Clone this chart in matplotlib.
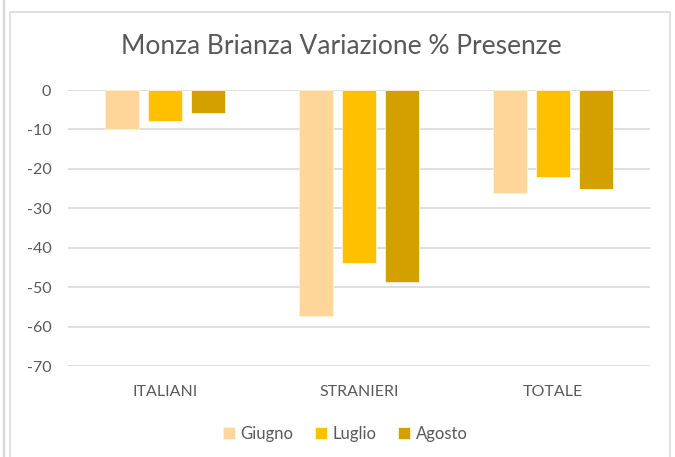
import matplotlib.pyplot as plt
import numpy as np
from matplotlib.patches import Rectangle

# dati
categorie = ["ITALIANI", "STRANIERI", "TOTALE"]
serie = ["Giugno", "Luglio", "Agosto"]
giugno = [-9.9, -57.4, -26.0]
luglio = [-7.8, -43.8, -22.1]
agosto = [-5.9, -48.7, -25.2]
valori = [giugno, luglio, agosto]
colori = ["#FFD699", "#FFC000", "#D4A000"]

plt.rcParams['font.family'] = ['Lato', 'DejaVu Sans']
testo = "#595959"

fig = plt.figure(figsize=(6.75, 4.57), dpi=100)
ax = fig.add_axes([68/675, 1-366/457, (650-68)/675, (366-90)/457])

# cornice
fig.patches.append(Rectangle((10/675, -0.1), 660/675, 1-12/457+0.1, transform=fig.transFigure,
                             fill=False, edgecolor="#D9D9D9", linewidth=1.2))
fig.patches.append(Rectangle((3/675, -0.1), 0.001, 1.2, transform=fig.transFigure,
                             fill=False, edgecolor="#D9D9D9", linewidth=1.0))

x = np.arange(len(categorie))
larg = 0.175
passo = 0.222
for i, (nome, v) in enumerate(zip(serie, valori)):
    ax.bar(x + (i-1)*passo, v, larg, color=colori[i], label=nome,
           edgecolor="#FFF3DA", linewidth=0.6, zorder=3)

ax.set_ylim(-70, 0)
ax.set_xlim(-0.5, 2.5)
ax.set_yticks(range(-70, 1, 10))
ax.set_yticklabels([str(t) for t in range(-70, 1, 10)])
ax.set_xticks(x)
ax.set_xticklabels(categorie)
ax.grid(axis='y', color="#D9D9D9", linewidth=1.2, zorder=0)
for s in ax.spines.values():
    s.set_visible(False)
ax.tick_params(length=0, colors=testo, labelsize=11.5)
ax.tick_params(axis='y', pad=12)
ax.tick_params(axis='x', pad=14)

fig.text(341/675, 1-47/457, "Monza Brianza Variazione % Presenze", ha='center', va='center',
         fontsize=19, color=testo)

leg = fig.legend(loc='center', bbox_to_anchor=(345/675, 1-434/457), ncol=3, frameon=False,
                 handlelength=0.75, handleheight=0.75, handletextpad=0.3, columnspacing=1.3,
                 fontsize=12)
for t in leg.get_texts():
    t.set_color(testo)

fig.savefig("out.png", dpi=100)
